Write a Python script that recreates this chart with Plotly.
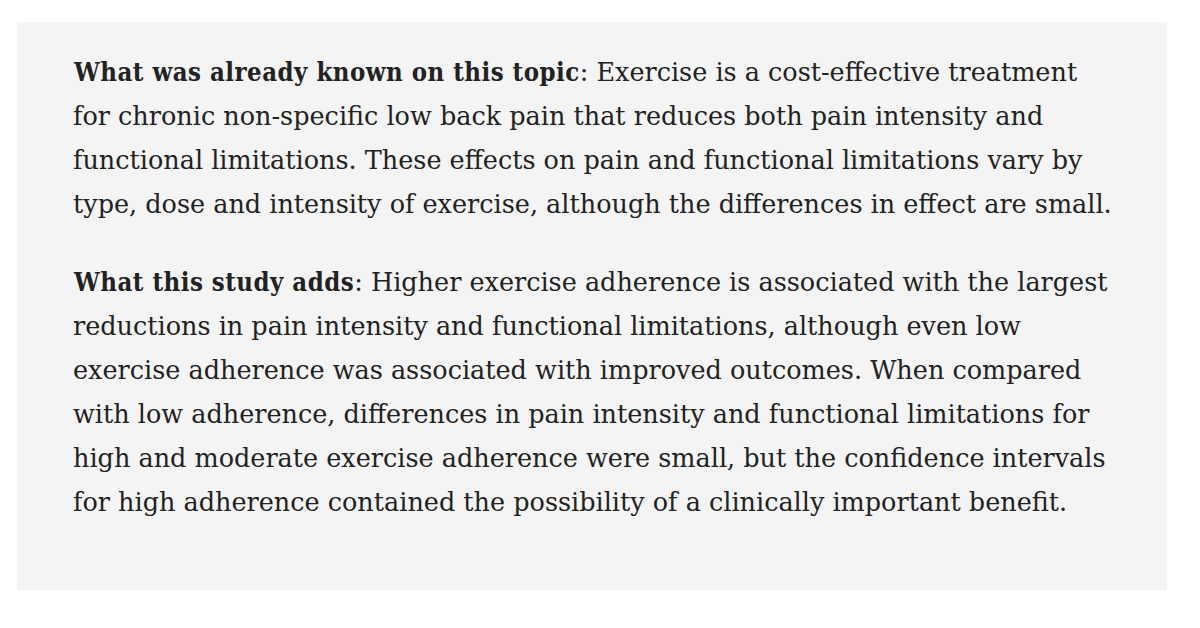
import plotly.graph_objects as go

# Text of the two paragraphs: bold lead-in, then one entry per rendered line
known_head = "What was already known on this topic"
known_lines = [
    ": Exercise is a cost-effective treatment",
    "for chronic non-specific low back pain that reduces both pain intensity and",
    "functional limitations. These effects on pain and functional limitations vary by",
    "type, dose and intensity of exercise, although the differences in effect are small.",
]
adds_head = "What this study adds"
adds_lines = [
    ": Higher exercise adherence is associated with the largest",
    "reductions in pain intensity and functional limitations, although even low",
    "exercise adherence was associated with improved outcomes. When compared",
    "with low adherence, differences in pain intensity and functional limitations for",
    "high and moderate exercise adherence were small, but the confidence intervals",
    "for high adherence contained the possibility of a clinically important benefit.",
]

W, H = 1200, 628
LINE_H = 44
OFF = 8  # page margin offset


def px(x):
    return (x - OFF) / W


def py(y):
    # pixel row from top -> paper fraction
    return 1 - (y - OFF) / H


fig = go.Figure()

# grey panel behind the text
fig.add_shape(type="rect", xref="paper", yref="paper",
              x0=px(17), x1=px(1167), y0=py(590), y1=py(22),
              fillcolor="#f4f4f4", line=dict(width=0), layer="below")

bold_style = ("font-family:'DejaVu Serif Condensed','DejaVu Serif';"
              "font-weight:bold;letter-spacing:0.5px")

annotations = []
for start, head, lines in [(72, known_head, known_lines), (282, adds_head, adds_lines)]:
    for i, txt in enumerate(lines):
        if i == 0:
            txt = '<span style="%s">%s</span>%s' % (bold_style, head, txt)
        annotations.append(dict(
            text=txt, xref="paper", yref="paper",
            x=px(71), y=py(start + i * LINE_H),
            xanchor="left", yanchor="middle", showarrow=False,
            font=dict(family="DejaVu Serif", size=25.5, color="#222222"),
        ))

fig.update_layout(
    width=W, height=H,
    margin=dict(l=0, r=0, t=0, b=0),
    paper_bgcolor="white", plot_bgcolor="white",
    xaxis=dict(visible=False), yaxis=dict(visible=False),
    annotations=annotations,
    showlegend=False,
)

fig.write_html("out.html")
